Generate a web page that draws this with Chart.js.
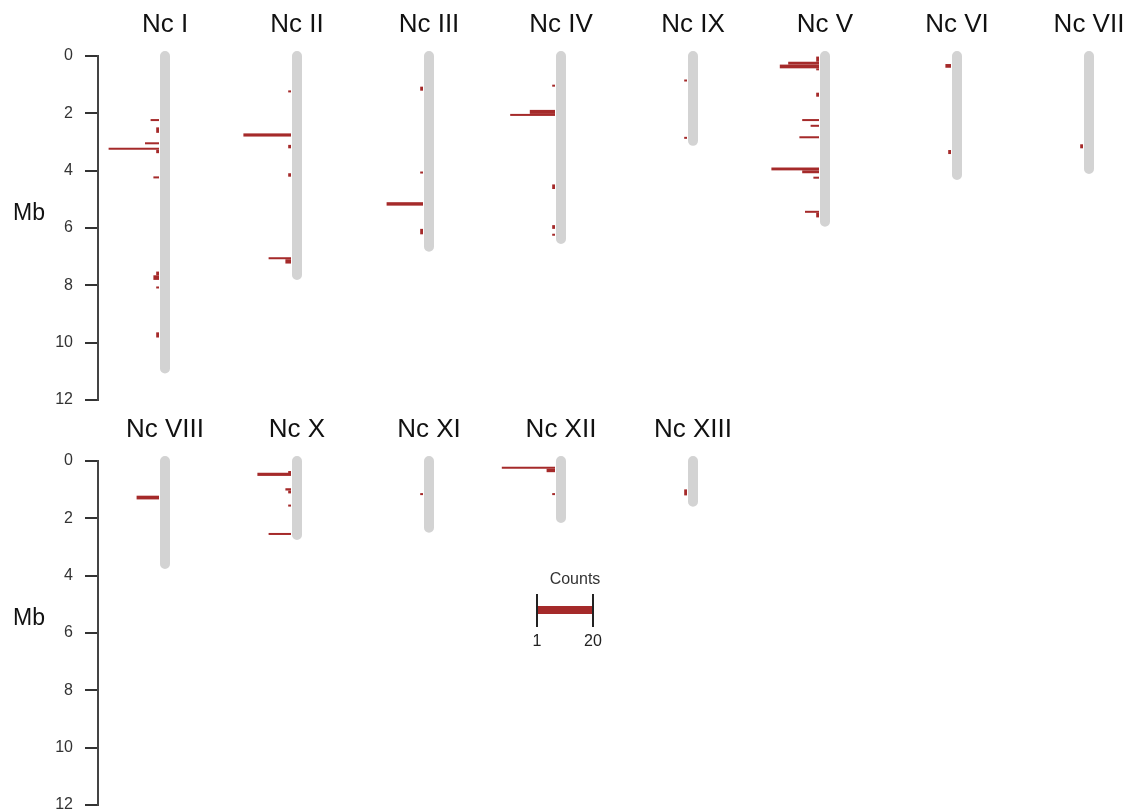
<!DOCTYPE html>
<html>
<head>
<meta charset="utf-8">
<script src="https://cdn.jsdelivr.net/npm/chart.js@4.4.1/dist/chart.umd.min.js"></script>
<style>
  body { margin: 0; background: #ffffff; }
  #wrap { position: relative; width: 1128px; height: 809px; overflow: hidden; }
  canvas { position: absolute; left: 0; }
</style>
</head>
<body>
<div id="wrap">
  <canvas id="fila1" width="1128" height="420" style="top:0px"></canvas>
  <canvas id="fila2" width="1128" height="404" style="top:405px"></canvas>
</div>
<script>
// --- DATOS ---
const nombresFila1 = ['Nc I', 'Nc II', 'Nc III', 'Nc IV', 'Nc IX', 'Nc V', 'Nc VI', 'Nc VII'];
const largosFila1 = [10.9, 7.64, 6.65, 6.38, 2.96, 5.78, 4.15, 3.94];
// cada tramo: [inicio Mb, fin Mb, conteo]
const tramosFila1 = [
  [[2.2, 2.27, 3], [2.49, 2.68, 1], [3.01, 3.08, 5], [3.2, 3.27, 18], [3.27, 3.39, 1], [4.2, 4.27, 2],
   [7.52, 7.65, 1], [7.65, 7.81, 2], [8.04, 8.1, 1], [9.64, 9.82, 1]],
  [[1.2, 1.27, 1], [2.7, 2.81, 17], [3.1, 3.22, 1], [4.09, 4.21, 1], [7.02, 7.09, 8], [7.09, 7.24, 2]],
  [[1.07, 1.21, 1], [4.03, 4.08, 1], [5.1, 5.22, 13], [6.03, 6.22, 1]],
  [[1.0, 1.06, 1], [1.88, 2.02, 9], [2.02, 2.09, 16], [4.48, 4.64, 1], [5.9, 6.03, 1], [6.2, 6.27, 1]],
  [[0.82, 0.88, 1], [2.82, 2.88, 1]],
  [[0.02, 0.2, 1], [0.2, 0.3, 11], [0.3, 0.43, 14], [0.43, 0.49, 1], [1.28, 1.42, 1], [2.2, 2.27, 6],
   [2.4, 2.47, 3], [2.8, 2.87, 7], [3.89, 3.99, 17], [3.99, 4.09, 6], [4.21, 4.28, 2],
   [5.4, 5.47, 5], [5.47, 5.63, 1]],
  [[0.28, 0.41, 2], [3.28, 3.42, 1]],
  [[3.08, 3.22, 1]]
];

const nombresFila2 = ['Nc VIII', 'Nc X', 'Nc XI', 'Nc XII', 'Nc XIII'];
const largosFila2 = [3.59, 2.58, 2.33, 1.99, 1.42];
const tramosFila2 = [
  [[1.21, 1.34, 8]],
  [[0.35, 0.41, 1], [0.41, 0.52, 12], [0.95, 1.03, 2], [1.03, 1.13, 1], [1.52, 1.59, 1], [2.51, 2.58, 8]],
  [[1.12, 1.17, 1]],
  [[0.2, 0.27, 19], [0.27, 0.39, 3], [1.12, 1.17, 1]],
  [[0.99, 1.2, 1]]
];

const ticksMb = [0, 2, 4, 6, 8, 10, 12];
const leyendaConteos = [1, 20];

// --- ESTILO ---
const ROJO = '#a52a2a';
const GRIS = '#d3d3d3';
const FUENTE = "'Liberation Sans', Arial, sans-serif";
const SLOT = 132;                 // px entre cromosomas
const X_MIN = -(165 - 98) / SLOT; // cromosoma 0 en x=165
const X_MAX = X_MIN + 1030 / SLOT;
const HUECO = 6 / SLOT;           // separacion barra-cromosoma
const ANCHO_CONTEO = 2.8 / SLOT;  // largo por conteo

function crearFila(id, nombres, largos, tramos, padAbajo, conLeyenda) {
  const datasets = largos.map((L, i) => ({
    data: [{ x: i, y: 0 }, { x: i, y: L }],
    borderColor: GRIS,
    borderWidth: 10,
    borderCapStyle: 'round',
    pointRadius: 0,
    clip: false
  }));

  const pluginTramos = {
    id: 'tramos',
    afterDatasetsDraw(chart) {
      const { ctx } = chart;
      const xs = chart.scales.x, ys = chart.scales.y;
      ctx.save();
      ctx.fillStyle = ROJO;
      tramos.forEach((lista, i) => {
        lista.forEach(([a, b, c]) => {
          const der = xs.getPixelForValue(i - HUECO);
          const izq = xs.getPixelForValue(i - HUECO - c * ANCHO_CONTEO);
          const arriba = ys.getPixelForValue(a);
          const abajo = ys.getPixelForValue(b);
          ctx.fillRect(izq, arriba, der - izq, Math.max(abajo - arriba, 2));
        });
      });
      // etiqueta Mb
      ctx.fillStyle = '#111';
      ctx.font = '23px ' + FUENTE;
      ctx.textAlign = 'center';
      ctx.textBaseline = 'middle';
      ctx.fillText('Mb', 29, ys.getPixelForValue(5.5));

      if (conLeyenda) {
        const x0 = 537, y0 = 205;
        const x1 = x0 + leyendaConteos[1] * 2.8;
        ctx.fillStyle = '#333';
        ctx.font = '16px ' + FUENTE;
        ctx.fillText('Counts', (x0 + x1) / 2 + 10, y0 - 30);
        ctx.fillStyle = ROJO;
        ctx.fillRect(x0, y0 - 4, x1 - x0, 8);
        ctx.strokeStyle = '#222';
        ctx.lineWidth = 2;
        [x0, x1].forEach(xx => {
          ctx.beginPath();
          ctx.moveTo(xx, y0 - 16);
          ctx.lineTo(xx, y0 + 17);
          ctx.stroke();
        });
        ctx.fillStyle = '#222';
        ctx.fillText(String(leyendaConteos[0]), x0, y0 + 32);
        ctx.fillText(String(leyendaConteos[1]), x1, y0 + 32);
      }
      ctx.restore();
    }
  };

  return new Chart(document.getElementById(id), {
    type: 'line',
    data: { datasets },
    options: {
      responsive: false,
      animation: false,
      devicePixelRatio: 1,
      events: [],
      layout: { padding: { left: 0, right: 0, top: 0, bottom: padAbajo } },
      plugins: { legend: { display: false }, tooltip: { enabled: false } },
      scales: {
        x: {
          type: 'linear',
          position: 'top',
          min: X_MIN,
          max: X_MAX,
          grid: { display: false, drawTicks: false },
          border: { display: false },
          afterBuildTicks: s => { s.ticks = nombres.map((_, i) => ({ value: i })); },
          afterFit: s => { s.height = 56; s.paddingLeft = 0; s.paddingRight = 0; },
          ticks: {
            autoSkip: false,
            maxRotation: 0,
            padding: 16,
            color: '#111',
            font: { family: FUENTE, size: 26 },
            callback: v => nombres[Math.round(v)] || ''
          }
        },
        y: {
          type: 'linear',
          reverse: true,
          min: 0,
          max: 12,
          afterBuildTicks: s => { s.ticks = ticksMb.map(v => ({ value: v })); },
          afterFit: s => { s.width = 98; s.paddingTop = 0; s.paddingBottom = 0; },
          grid: { drawOnChartArea: false, drawTicks: true, tickLength: 13, color: '#333', lineWidth: 2 },
          border: { display: true, color: '#444', width: 2 },
          ticks: { padding: 12, color: '#333', font: { family: FUENTE, size: 16 } }
        }
      }
    },
    plugins: [pluginTramos]
  });
}

crearFila('fila1', nombresFila1, largosFila1, tramosFila1, 20, false);
crearFila('fila2', nombresFila2, largosFila2, tramosFila2, 4, true);
</script>
</body>
</html>
